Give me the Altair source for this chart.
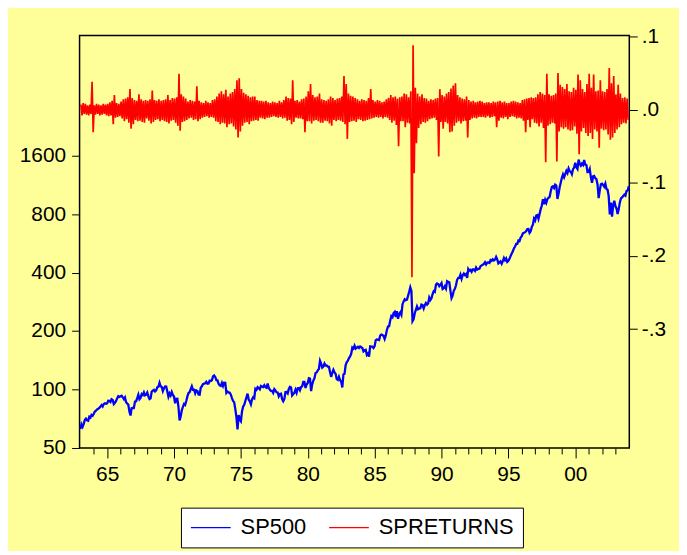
import altair as alt
import pandas as pd

# ---------------- data ----------------
YEARS = list(range(1963, 2004))

SP500_START = 62.7  # first observation, start of 1963

SP500_1963_1969 = [
    66.2, 64.3, 66.6, 69.8, 70.8, 69.4, 69.1, 72.5, 71.7, 74.0, 73.2, 75.0,
    77.0, 77.8, 79.0, 79.5, 80.4, 81.7, 83.2, 81.8, 84.2, 84.9, 84.4, 84.8,
    87.6, 87.4, 86.2, 89.1, 88.4, 84.1, 85.3, 87.2, 90.0, 92.4, 91.6, 92.4,
    92.9, 91.2, 89.2, 91.1, 86.1, 84.7, 83.6, 77.1, 73.5, 80.2, 80.5, 80.3,
    86.6, 87.0, 90.2, 94.0, 89.1, 90.6, 94.8, 93.6, 96.7, 93.3, 94.0, 96.5,
    92.2, 89.4, 90.2, 97.5, 98.7, 99.6, 97.7, 98.9, 102.7, 103.4, 108.4, 103.9,
    103.0, 98.1, 101.5, 103.7, 103.5, 97.7, 91.8, 95.5, 93.1, 97.1, 93.8, 92.1,
]
SP500_1970S = [
    85.0, 89.5, 89.6, 81.5, 69.3, 72.7, 78.1, 81.5, 84.3, 83.3, 87.2, 92.2,
    95.9, 96.8, 100.3, 103.9, 99.6, 99.7, 95.6, 99.0, 98.3, 94.2, 94.0, 102.1,
    103.9, 106.6, 107.2, 107.7, 109.5, 107.1, 107.4, 111.1, 110.6, 111.6, 116.7, 118.1,
    116.0, 111.7, 111.5, 107.0, 105.0, 104.3, 108.2, 104.3, 108.4, 108.3, 96.0, 97.6,
    96.6, 96.2, 94.0, 90.3, 87.3, 86.0, 79.3, 72.2, 62.3, 73.9, 70.0, 68.6,
    77.0, 81.6, 83.4, 87.3, 91.2, 95.2, 88.8, 86.9, 83.9, 89.0, 91.2, 90.2,
    100.9, 99.7, 102.8, 101.6, 100.2, 104.3, 103.4, 102.9, 105.2, 102.9, 102.1, 107.5,
    102.0, 99.8, 98.4, 98.4, 96.1, 100.5, 98.9, 96.8, 96.5, 92.3, 94.8, 95.1,
    89.3, 87.0, 89.2, 97.0, 97.2, 95.5, 100.7, 103.3, 102.5, 93.2, 94.7, 96.1,
    99.9, 96.3, 101.6, 101.8, 99.1, 102.9, 103.8, 109.3, 109.3, 101.8, 106.2, 107.9,
]
SP500_1980S = [
    114.2, 113.7, 98.2, 106.3, 111.2, 114.2, 121.7, 122.4, 125.5, 127.5, 140.5, 135.8,
    129.6, 131.3, 136.0, 132.8, 133.0, 131.2, 130.9, 122.8, 116.2, 121.9, 126.4, 122.6,
    120.4, 113.1, 112.0, 116.4, 111.9, 109.6, 102.4, 119.5, 120.4, 133.7, 138.5, 140.6,
    145.3, 148.1, 153.0, 164.4, 162.4, 168.1, 162.6, 164.4, 166.1, 163.6, 166.4, 164.9,
    163.4, 157.1, 159.2, 160.1, 150.6, 153.2, 147.8, 166.7, 166.1, 166.1, 163.6, 167.2,
    179.6, 181.2, 180.7, 179.8, 189.6, 191.9, 190.9, 188.6, 182.1, 189.8, 202.2, 211.3,
    211.8, 226.9, 238.9, 235.5, 247.4, 250.8, 236.1, 252.9, 231.3, 244.0, 249.2, 242.2,
    274.1, 284.2, 291.7, 288.4, 290.1, 304.0, 318.7, 336.0, 321.8, 225.0, 230.3, 247.1,
    257.1, 267.8, 258.9, 261.3, 262.2, 273.5, 272.0, 261.5, 271.9, 279.0, 273.7, 277.7,
    297.5, 288.9, 294.9, 309.6, 320.5, 318.0, 346.1, 351.5, 349.2, 340.4, 346.0, 353.4,
]
SP500_1990S = [
    329.1, 331.9, 339.9, 330.8, 361.2, 358.0, 356.2, 322.6, 295.5, 304.0, 322.2, 330.2,
    343.9, 367.1, 375.2, 375.3, 389.8, 371.2, 387.8, 395.4, 387.9, 392.5, 375.2, 417.1,
    408.8, 412.7, 403.7, 415.0, 415.4, 408.1, 424.2, 414.0, 417.8, 418.7, 431.4, 435.7,
    438.8, 443.4, 451.7, 440.2, 450.2, 450.5, 448.1, 463.6, 458.9, 467.8, 461.8, 466.5,
    481.6, 467.1, 445.8, 450.9, 456.5, 444.3, 458.3, 475.5, 462.7, 472.4, 453.7, 459.3,
    470.4, 487.4, 500.7, 514.7, 533.4, 544.8, 562.1, 561.9, 584.4, 581.5, 605.4, 615.9,
    636.0, 640.4, 645.5, 654.2, 669.1, 670.6, 640.0, 652.0, 687.3, 705.3, 757.0, 740.7,
    786.2, 790.8, 757.1, 801.3, 848.3, 885.1, 954.3, 899.5, 947.3, 914.6, 955.4, 970.4,
    980.3, 1049.3, 1101.8, 1111.8, 1090.8, 1133.8, 1120.7, 957.3, 1017.0, 1098.7, 1163.6, 1229.2,
    1279.6, 1238.3, 1286.4, 1335.2, 1301.8, 1372.7, 1328.7, 1320.4, 1282.7, 1362.9, 1388.9, 1469.3,
]
SP500_2000_2003 = [
    1394.5, 1366.4, 1527.0, 1452.4, 1420.6, 1454.6, 1430.8, 1517.7, 1436.5, 1429.4, 1315.2, 1320.3,
    1366.0, 1239.9, 1160.3, 1249.5, 1255.8, 1224.4, 1211.2, 1133.6, 966.0, 1059.8, 1139.5, 1148.1,
    1130.2, 1106.7, 1147.4, 1076.9, 1067.1, 989.8, 797.0, 916.1, 777.0, 885.8, 936.3, 879.8,
    855.7, 801.0, 848.2, 916.9, 963.6, 974.5, 990.3, 1008.0, 996.0, 1050.7, 1058.2, 1111.9,
]

RET_1963_1969 = [
    0.007, -0.008, 0.009, -0.006, 0.008, -0.007, 0.006, -0.008, 0.007, -0.006, 0.038, -0.031,
    0.006, -0.007, 0.008, -0.006, 0.007, -0.008, 0.006, -0.007, 0.008, -0.006, 0.007, -0.008,
    0.008, -0.009, 0.010, -0.008, 0.012, -0.020, 0.020, -0.011, 0.009, -0.010, 0.008, -0.009,
    0.011, -0.012, 0.014, -0.016, 0.015, -0.013, 0.017, -0.018, 0.028, -0.026, 0.016, -0.020,
    0.013, -0.014, 0.012, -0.016, 0.021, -0.015, 0.014, -0.017, 0.012, -0.018, 0.013, -0.012,
    0.012, -0.015, 0.014, -0.019, 0.026, -0.017, 0.013, -0.014, 0.012, -0.013, 0.014, -0.016,
    0.012, -0.014, 0.013, -0.016, 0.014, -0.017, 0.020, -0.019, 0.013, -0.015, 0.016, -0.014,
]
RET_1970S = [
    0.015, -0.018, 0.017, -0.022, 0.049, -0.029, 0.021, -0.017, 0.018, -0.016, 0.015, -0.014,
    0.011, -0.012, 0.013, -0.011, 0.012, -0.014, 0.011, -0.013, 0.032, -0.016, 0.012, -0.013,
    0.010, -0.011, 0.009, -0.010, 0.012, -0.009, 0.010, -0.011, 0.009, -0.010, 0.013, -0.011,
    0.014, -0.016, 0.018, -0.017, 0.022, -0.020, 0.025, -0.018, 0.021, -0.019, 0.027, -0.024,
    0.018, -0.020, 0.022, -0.019, 0.024, -0.023, 0.028, -0.027, 0.040, -0.038, 0.043, -0.030,
    0.028, -0.022, 0.023, -0.018, 0.021, -0.017, 0.019, -0.020, 0.017, -0.016, 0.018, -0.015,
    0.018, -0.014, 0.013, -0.015, 0.012, -0.011, 0.012, -0.012, 0.011, -0.013, 0.012, -0.011,
    0.010, -0.011, 0.009, -0.010, 0.011, -0.009, 0.010, -0.010, 0.009, -0.011, 0.012, -0.010,
    0.010, -0.012, 0.013, -0.011, 0.018, -0.015, 0.016, -0.014, 0.015, -0.020, 0.040, -0.017,
    0.012, -0.011, 0.013, -0.012, 0.011, -0.012, 0.014, -0.013, 0.015, -0.031, 0.018, -0.016,
]
RET_1980S = [
    0.025, -0.016, 0.035, -0.019, 0.020, -0.015, 0.017, -0.014, 0.018, -0.016, 0.022, -0.018,
    0.014, -0.018, 0.013, -0.015, 0.012, -0.016, 0.014, -0.019, 0.018, -0.022, 0.016, -0.014,
    0.013, -0.016, 0.015, -0.014, 0.016, -0.015, 0.018, -0.017, 0.046, -0.020, 0.035, -0.040,
    0.022, -0.017, 0.019, -0.016, 0.018, -0.015, 0.016, -0.017, 0.014, -0.013, 0.012, -0.014,
    0.014, -0.016, 0.013, -0.015, 0.012, -0.014, 0.016, -0.013, 0.028, -0.012, 0.013, -0.011,
    0.011, -0.010, 0.013, -0.011, 0.012, -0.010, 0.010, -0.012, 0.011, -0.010, 0.014, -0.011,
    0.016, -0.014, 0.020, -0.018, 0.017, -0.015, 0.018, -0.021, 0.015, -0.050, 0.017, -0.016,
    0.018, -0.016, 0.022, -0.024, 0.021, -0.018, 0.017, -0.019, 0.025, -0.229, 0.088, -0.087,
    0.030, -0.046, 0.022, -0.025, 0.018, -0.020, 0.021, -0.017, 0.016, -0.018, 0.015, -0.016,
    0.012, -0.013, 0.014, -0.012, 0.013, -0.011, 0.015, -0.014, 0.016, -0.064, 0.028, -0.017,
]
RET_1990S = [
    0.020, -0.026, 0.018, -0.017, 0.022, -0.019, 0.024, -0.031, 0.029, -0.030, 0.033, -0.022,
    0.036, -0.018, 0.020, -0.016, 0.017, -0.019, 0.015, -0.016, 0.014, -0.015, 0.018, -0.038,
    0.013, -0.014, 0.011, -0.012, 0.012, -0.011, 0.010, -0.012, 0.011, -0.010, 0.012, -0.010,
    0.011, -0.010, 0.009, -0.011, 0.010, -0.009, 0.010, -0.011, 0.009, -0.010, 0.011, -0.009,
    0.010, -0.024, 0.011, -0.015, 0.012, -0.011, 0.010, -0.012, 0.011, -0.010, 0.009, -0.013,
    0.009, -0.010, 0.011, -0.009, 0.012, -0.010, 0.011, -0.012, 0.010, -0.011, 0.009, -0.012,
    0.013, -0.015, 0.014, -0.031, 0.015, -0.014, 0.016, -0.024, 0.017, -0.013, 0.016, -0.018,
    0.017, -0.019, 0.021, -0.023, 0.024, -0.018, 0.022, -0.025, 0.020, -0.072, 0.049, -0.022,
    0.021, -0.020, 0.019, -0.018, 0.020, -0.019, 0.022, -0.071, 0.050, -0.030, 0.034, -0.024,
    0.031, -0.026, 0.028, -0.024, 0.035, -0.027, 0.025, -0.029, 0.024, -0.028, 0.030, -0.023,
]
RET_2000_2003 = [
    0.027, -0.033, 0.048, -0.061, 0.040, -0.030, 0.028, -0.025, 0.024, -0.032, 0.035, -0.036,
    0.049, -0.032, 0.030, -0.040, 0.048, -0.027, 0.025, -0.030, 0.026, -0.052, 0.040, -0.026,
    0.025, -0.028, 0.024, -0.027, 0.028, -0.034, 0.057, -0.041, 0.036, -0.038, 0.046, -0.032,
    0.021, -0.027, 0.034, -0.024, 0.022, -0.020, 0.016, -0.018, 0.017, -0.019, 0.015, -0.014,
]

SERIES = ["SP500", "SPRETURNS"]
COLORS = ["#0000FF", "#FF0000"]
LEFT_TICKS = [50, 100, 200, 400, 800, 1600]
RIGHT_TICKS = [0.1, 0.0, -0.1, -0.2, -0.3]
YEAR_TICKS = list(range(1964, 2004))

# ---------------- tables ----------------
sp_vals = [SP500_START] + SP500_1963_1969 + SP500_1970S + SP500_1980S + SP500_1990S + SP500_2000_2003
sp_time = [1963.0] + [y + (m + 1) / 12 for y in YEARS for m in range(12)]
ret_vals = RET_1963_1969 + RET_1970S + RET_1980S + RET_1990S + RET_2000_2003
ret_time = [y + (m + 0.5) / 12 for y in YEARS for m in range(12)]

df_sp = pd.DataFrame({"t": sp_time, "value": sp_vals, "series": "SP500"})
df_ret = pd.DataFrame({"t": ret_time, "value": ret_vals, "series": "SPRETURNS"})

FONT = "Liberation Sans"

x_enc = alt.X(
    "t:Q",
    scale=alt.Scale(domain=[1962.94, 2004.04], nice=False, zero=False),
    axis=alt.Axis(
        values=YEAR_TICKS,
        labelExpr="datum.value % 5 == 0 ? slice(toString(datum.value), 2) : ''",
        tickSize={"condition": {"test": "datum.value % 5 == 0", "value": 10}, "value": 6},
        title=None, grid=False, domain=False, labelOverlap=False, labelFlush=False,
        labelPadding=6, labelFontSize=21,
    ),
)

legend = alt.Legend(
    title=None, orient="none", legendX=102, legendY=475, direction="horizontal",
    fillColor="white", strokeColor="black", padding=9,
    labelFontSize=22, labelFont=FONT, labelColor="black", labelOffset=9,
    symbolType="stroke", symbolSize=1600, symbolStrokeWidth=1.3,
    columnPadding=21, clipHeight=22,
)
color_enc = alt.Color(
    "series:N",
    scale=alt.Scale(domain=SERIES, range=COLORS),
    legend=legend,
)

blue = alt.Chart(df_sp).mark_line(strokeWidth=2.3).encode(
    x=x_enc,
    y=alt.Y(
        "value:Q",
        scale=alt.Scale(type="log", domain=[50, 6646], nice=False),
        axis=alt.Axis(values=LEFT_TICKS, format="d", title=None, grid=False, domain=False,
                      tickSize=8, labelPadding=6, labelFontSize=21, orient="left"),
    ),
    color=color_enc,
)

red = alt.Chart(df_ret).mark_line(strokeWidth=1.7, strokeJoin="bevel").encode(
    x=x_enc,
    y=alt.Y(
        "value:Q",
        scale=alt.Scale(domain=[-0.4626, 0.1014], nice=False, zero=False),
        axis=alt.Axis(
            values=RIGHT_TICKS,
            labelExpr="(datum.value < -0.001 ? '-' : '') + '.' + toString(round(abs(datum.value) * 10))",
            title=None, grid=False, domain=False, tickSize=8, labelPadding=4,
            labelFontSize=21, orient="right",
        ),
    ),
    color=color_enc,
)

chart = (
    alt.layer(blue, red)
    .resolve_scale(y="independent")
    .properties(
        width=553, height=415,
        autosize=alt.AutoSizeParams(type="none"),
        padding={"left": 72, "top": 26, "right": 50, "bottom": 102},
        background="#FFFF99",
    )
    .configure_view(stroke="black", strokeWidth=1.5)
    .configure_axis(labelFont=FONT, labelColor="black", tickColor="black", tickWidth=1)
)

chart.save("out.html", embed_options={"renderer": "svg", "actions": False})
